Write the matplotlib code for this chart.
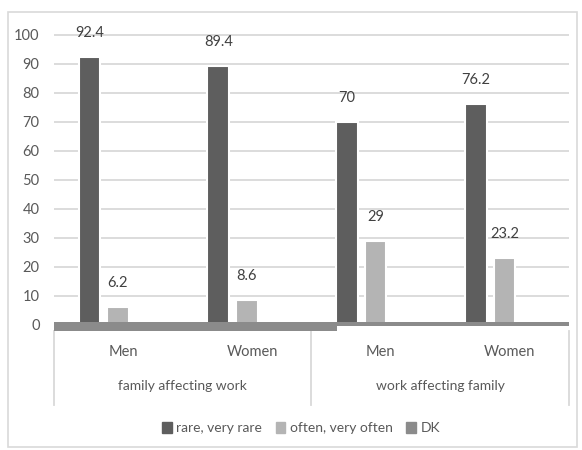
import matplotlib.pyplot as plt
import matplotlib.transforms as mtransforms
from matplotlib.patches import Patch, Rectangle

plt.rcParams['font.family'] = ['Lato', 'DejaVu Sans']

categories = ['Men', 'Women', 'Men', 'Women']
groups = ['family affecting work', 'work affecting family']
rare = [92.4, 89.4, 70.0, 76.2]
often = [6.2, 8.6, 29.0, 23.2]
# DK is shown as a band along the axis, one depth per group
dk_band = [2.0, 0.4]
yticks = list(range(0, 101, 10))

c_rare = '#5e5e5e'
c_often = '#b4b4b4'
c_dk = '#8b8b8b'
txt = '#595959'

W, H = 582, 450
fig = plt.figure(figsize=(W / 100, H / 100), dpi=100)
ax = fig.add_axes([53.5 / W, 1 - 332 / H, (569 - 53.5) / W, (332 - 32.1) / H])

x = list(range(len(categories)))
bw = 0.167
ax.bar([i - 0.222 for i in x], rare, width=bw, color=c_rare, edgecolor='white', linewidth=1.5, zorder=2)
ax.bar(x, often, width=bw, color=c_often, edgecolor='white', linewidth=1.5, zorder=2)

# band at the base: left group runs a little past the divider
top = 0.95
ax.bar(-0.5, top + dk_band[0], bottom=-dk_band[0], width=2.2, align='edge', color=c_dk, zorder=3)
ax.bar(1.7, top + dk_band[1], bottom=-dk_band[1], width=1.8, align='edge', color=c_dk, zorder=3)

for i in x:
    ax.annotate(f'{rare[i]:g}', (i - 0.222, rare[i]), xytext=(0, 17), textcoords='offset points',
                ha='center', va='center', fontsize=10.5, color='#404040')
    ax.annotate(f'{often[i]:g}', (i, often[i]), xytext=(0, 17), textcoords='offset points',
                ha='center', va='center', fontsize=10.5, color='#404040')

ax.set_xlim(-0.5, 3.5)
ax.set_ylim(-2.5, 101)
ax.set_yticks(yticks)
ax.set_xticks([])
ax.tick_params(axis='y', length=0, pad=10, labelsize=10.5, labelcolor=txt)
ax.grid(axis='y', color='#d9d9d9', linewidth=1.3, zorder=0)
ax.set_axisbelow(True)
for s in ax.spines.values():
    s.set_visible(False)

# category axis below the plot
tr = mtransforms.blended_transform_factory(ax.transData, fig.transFigure)
for i, c in enumerate(categories):
    fig.text(i + 0.04, 1 - 352 / H, c, transform=tr, ha='center', va='center', fontsize=10.5, color=txt)
for g, name in enumerate(groups):
    fig.text(2 * g + 0.5, 1 - 386 / H, name, transform=tr, ha='center', va='center', fontsize=10, color=txt)
for xv in [-0.5, 1.5, 3.5]:
    ax.plot([xv, xv], [1 - 331 / H, 1 - 405 / H], transform=tr, color='#d9d9d9', lw=1.3, clip_on=False)

handles = [Patch(color=c_rare, label='rare, very rare'),
           Patch(color=c_often, label='often, very often'),
           Patch(color=c_dk, label='DK')]
fig.legend(handles=handles, loc='center', bbox_to_anchor=(301 / W, 1 - 428 / H), ncol=3, frameon=False,
           fontsize=10, labelcolor=txt, handlelength=0.7, handleheight=0.8, handletextpad=0.3, columnspacing=1.0)

fig.patches.append(Rectangle((8 / W, 3 / H), (577 - 8) / W, (447 - 12) / H, transform=fig.transFigure,
                             fill=False, edgecolor='#d9d9d9', lw=1.2))

fig.savefig('out.png', dpi=100)
